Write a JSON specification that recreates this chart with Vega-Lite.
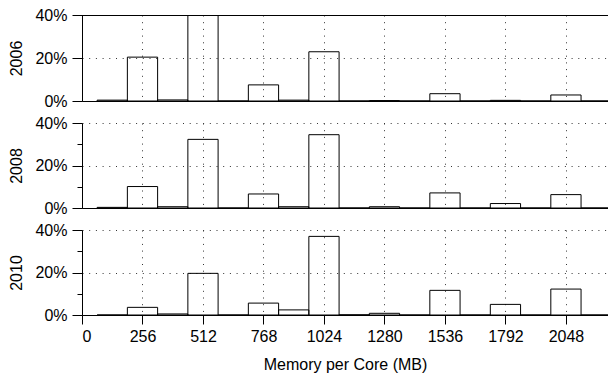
{
  "$schema": "https://vega.github.io/schema/vega-lite/v6.json",
  "padding": {"left": 8, "top": 7, "right": 0, "bottom": 1},
  "background": "white",
  "spacing": 6,
  "config": {
    "font": "Liberation Sans",
    "view": {"stroke": null},
    "concat": {"spacing": 6},
    "axis": {
      "domainColor": "black",
      "tickColor": "black",
      "labelColor": "black",
      "titleColor": "black",
      "labelFontSize": 16,
      "titleFontSize": 16,
      "titleFontWeight": "normal",
      "gridColor": "#333333",
      "gridDash": [1, 5.7],
      "gridWidth": 1,
      "domainWidth": 1,
      "tickWidth": 1
    }
  },
  "datasets": {
    "hist": [
      {"year": 2006, "bin_start": 64, "bin_end": 192, "share": 0.004},
      {"year": 2006, "bin_start": 192, "bin_end": 320, "share": 0.204},
      {"year": 2006, "bin_start": 320, "bin_end": 448, "share": 0.005},
      {"year": 2006, "bin_start": 448, "bin_end": 576, "share": 0.43},
      {"year": 2006, "bin_start": 576, "bin_end": 704, "share": 0.0},
      {"year": 2006, "bin_start": 704, "bin_end": 832, "share": 0.075},
      {"year": 2006, "bin_start": 832, "bin_end": 960, "share": 0.004},
      {"year": 2006, "bin_start": 960, "bin_end": 1088, "share": 0.229},
      {"year": 2006, "bin_start": 1088, "bin_end": 1216, "share": 0.0},
      {"year": 2006, "bin_start": 1216, "bin_end": 1344, "share": 0.002},
      {"year": 2006, "bin_start": 1344, "bin_end": 1472, "share": 0.0},
      {"year": 2006, "bin_start": 1472, "bin_end": 1600, "share": 0.034},
      {"year": 2006, "bin_start": 1600, "bin_end": 1728, "share": 0.0},
      {"year": 2006, "bin_start": 1728, "bin_end": 1856, "share": 0.003},
      {"year": 2006, "bin_start": 1856, "bin_end": 1984, "share": 0.0},
      {"year": 2006, "bin_start": 1984, "bin_end": 2112, "share": 0.028},
      {"year": 2006, "bin_start": 2112, "bin_end": 2240, "share": 0.0},
      {"year": 2008, "bin_start": 64, "bin_end": 192, "share": 0.003},
      {"year": 2008, "bin_start": 192, "bin_end": 320, "share": 0.101},
      {"year": 2008, "bin_start": 320, "bin_end": 448, "share": 0.006},
      {"year": 2008, "bin_start": 448, "bin_end": 576, "share": 0.323},
      {"year": 2008, "bin_start": 576, "bin_end": 704, "share": 0.0},
      {"year": 2008, "bin_start": 704, "bin_end": 832, "share": 0.066},
      {"year": 2008, "bin_start": 832, "bin_end": 960, "share": 0.006},
      {"year": 2008, "bin_start": 960, "bin_end": 1088, "share": 0.345},
      {"year": 2008, "bin_start": 1088, "bin_end": 1216, "share": 0.0},
      {"year": 2008, "bin_start": 1216, "bin_end": 1344, "share": 0.006},
      {"year": 2008, "bin_start": 1344, "bin_end": 1472, "share": 0.0},
      {"year": 2008, "bin_start": 1472, "bin_end": 1600, "share": 0.071},
      {"year": 2008, "bin_start": 1600, "bin_end": 1728, "share": 0.0},
      {"year": 2008, "bin_start": 1728, "bin_end": 1856, "share": 0.021},
      {"year": 2008, "bin_start": 1856, "bin_end": 1984, "share": 0.0},
      {"year": 2008, "bin_start": 1984, "bin_end": 2112, "share": 0.063},
      {"year": 2008, "bin_start": 2112, "bin_end": 2240, "share": 0.0},
      {"year": 2010, "bin_start": 64, "bin_end": 192, "share": 0.0},
      {"year": 2010, "bin_start": 192, "bin_end": 320, "share": 0.036},
      {"year": 2010, "bin_start": 320, "bin_end": 448, "share": 0.005},
      {"year": 2010, "bin_start": 448, "bin_end": 576, "share": 0.196},
      {"year": 2010, "bin_start": 576, "bin_end": 704, "share": 0.0},
      {"year": 2010, "bin_start": 704, "bin_end": 832, "share": 0.056},
      {"year": 2010, "bin_start": 832, "bin_end": 960, "share": 0.024},
      {"year": 2010, "bin_start": 960, "bin_end": 1088, "share": 0.37},
      {"year": 2010, "bin_start": 1088, "bin_end": 1216, "share": 0.001},
      {"year": 2010, "bin_start": 1216, "bin_end": 1344, "share": 0.008},
      {"year": 2010, "bin_start": 1344, "bin_end": 1472, "share": 0.0},
      {"year": 2010, "bin_start": 1472, "bin_end": 1600, "share": 0.116},
      {"year": 2010, "bin_start": 1600, "bin_end": 1728, "share": 0.0},
      {"year": 2010, "bin_start": 1728, "bin_end": 1856, "share": 0.05},
      {"year": 2010, "bin_start": 1856, "bin_end": 1984, "share": 0.0},
      {"year": 2010, "bin_start": 1984, "bin_end": 2112, "share": 0.122},
      {"year": 2010, "bin_start": 2112, "bin_end": 2240, "share": 0.0}
    ]
  },
  "vconcat": [
    {
      "width": 526,
      "height": 86,
      "layer": [
        {
          "data": {"name": "hist"},
          "transform": [{"filter": "datum.year == 2006"}],
          "mark": {"type": "bar", "filled": false, "stroke": "black", "strokeWidth": 1, "clip": true},
          "encoding": {
            "x": {"field": "bin_start", "type": "quantitative",
              "scale": {"domain": [0, 2226], "nice": false, "zero": false},
              "axis": {"values": [0, 256, 512, 768, 1024, 1280, 1536, 1792, 2048], "labels": false, "ticks": false, "title": null, "grid": true}},
            "x2": {"field": "bin_end"},
            "y": {"field": "share", "type": "quantitative",
              "scale": {"domain": [0, 0.4], "nice": false},
              "axis": {"title": "2006", "titlePadding": 10, "values": [0, 0.1, 0.2, 0.3, 0.4], "format": ".0%",
                "labelExpr": "round(datum.value*100) % 20 != 0 ? '' : datum.label",
                "labelPadding": 5,
                "grid": true,
                "gridOpacity": {"condition": {"test": "round(datum.value*100) % 20 != 0", "value": 0}, "value": 1},
                "tickSize": {"condition": {"test": "round(datum.value*100) % 20 != 0", "value": 5}, "value": 10}}},
            "y2": {"datum": 0}
          }
        },
        {
          "data": {"values": [{"share": 0.4}]},
          "mark": {"type": "rule", "color": "black", "strokeWidth": 1, "yOffset": 0.5},
          "encoding": {"y": {"field": "share", "type": "quantitative"}}
        }
      ]
    },
    {
      "width": 526,
      "height": 85,
      "data": {"name": "hist"},
      "transform": [{"filter": "datum.year == 2008"}],
      "mark": {"type": "bar", "filled": false, "stroke": "black", "strokeWidth": 1, "clip": true},
      "encoding": {
        "x": {"field": "bin_start", "type": "quantitative",
          "scale": {"domain": [0, 2226], "nice": false, "zero": false},
          "axis": {"values": [0, 256, 512, 768, 1024, 1280, 1536, 1792, 2048], "labels": false, "ticks": false, "title": null, "grid": true}},
        "x2": {"field": "bin_end"},
        "y": {"field": "share", "type": "quantitative",
          "scale": {"domain": [0, 0.4], "nice": false},
          "axis": {"title": "2008", "titlePadding": 10, "values": [0, 0.1, 0.2, 0.3, 0.4], "format": ".0%",
            "labelExpr": "round(datum.value*100) % 20 != 0 ? '' : datum.label",
            "labelPadding": 5,
            "grid": true,
            "gridOpacity": {"condition": {"test": "round(datum.value*100) % 20 != 0", "value": 0}, "value": 1},
            "tickSize": {"condition": {"test": "round(datum.value*100) % 20 != 0", "value": 5}, "value": 10}}},
        "y2": {"datum": 0}
      }
    },
    {
      "width": 526,
      "height": 85,
      "data": {"name": "hist"},
      "transform": [{"filter": "datum.year == 2010"}],
      "mark": {"type": "bar", "filled": false, "stroke": "black", "strokeWidth": 1, "clip": true},
      "encoding": {
        "x": {"field": "bin_start", "type": "quantitative",
          "scale": {"domain": [0, 2226], "nice": false, "zero": false},
          "axis": {"values": [0, 256, 512, 768, 1024, 1280, 1536, 1792, 2048], "format": "d", "tickSize": 9, "labelPadding": 4, "title": "Memory per Core (MB)", "titlePadding": 12, "grid": true}},
        "x2": {"field": "bin_end"},
        "y": {"field": "share", "type": "quantitative",
          "scale": {"domain": [0, 0.4], "nice": false},
          "axis": {"title": "2010", "titlePadding": 10, "values": [0, 0.1, 0.2, 0.3, 0.4], "format": ".0%",
            "labelExpr": "round(datum.value*100) % 20 != 0 ? '' : datum.label",
            "labelPadding": 5,
            "grid": true,
            "gridOpacity": {"condition": {"test": "round(datum.value*100) % 20 != 0", "value": 0}, "value": 1},
            "tickSize": {"condition": {"test": "round(datum.value*100) % 20 != 0", "value": 5}, "value": 10}}},
        "y2": {"datum": 0}
      }
    }
  ]
}
